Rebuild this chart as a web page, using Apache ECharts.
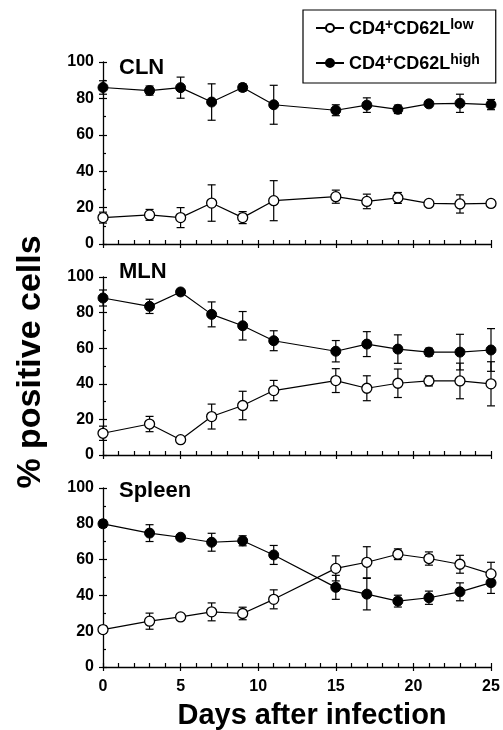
<!DOCTYPE html>
<html>
<head>
<meta charset="utf-8">
<script src="https://cdn.jsdelivr.net/npm/echarts@6/dist/echarts.min.js"></script>
<style>html,body{margin:0;padding:0;background:#fff}#c{width:503px;height:730px}</style>
</head>
<body>
<div id="c"></div>
<script>
const days = [0, 3, 5, 7, 9, 11, 15, 17, 19, 21, 23, 25];
const panelNames = ['CLN', 'MLN', 'Spleen'];
const xTicks = [0, 5, 10, 15, 20, 25];
const yTicks = [0, 20, 40, 60, 80, 100];

const clnLow      = [14.5, 16, 14.5, 22.5, 14.5, 23.8, 26, 23.4, 25.3, 22.3, 22, 22.3];
const clnLowErr   = [3, 3, 5.5, 10, 3.3, 11, 3.6, 4, 3, 1, 5, 1.8];
const clnHigh     = [86, 84.3, 85.9, 78, 86, 76.5, 73.5, 76.3, 74, 77, 77.3, 76.6];
const clnHighErr  = [3.7, 2.5, 5.8, 10, 2, 10.7, 3, 4, 2.3, 1, 5, 2.8];

const mlnLow      = [12.2, 17.4, 8.6, 21.6, 27.8, 36.2, 41.8, 37.5, 40.3, 41.6, 41.6, 40];
const mlnLowErr   = [4, 4.3, 1.5, 7, 8, 5.7, 6.7, 7, 8, 2.8, 10, 12.4];
const mlnHigh     = [88.2, 83.5, 91.6, 79, 72.6, 64.2, 58.3, 62.3, 59.5, 57.8, 57.8, 59];
const mlnHighErr  = [4.5, 4, 1.5, 7, 8, 5.6, 6, 7, 8, 2.2, 10, 12];

const spleenLow     = [20.9, 25.6, 28, 30.8, 29.9, 37.8, 55.1, 58.5, 63, 60.6, 57.4, 52];
const spleenLowErr  = [2, 4.5, 1.5, 5, 3.5, 5.3, 7, 8.7, 3, 3.7, 5, 6.5];
const spleenHigh    = [80, 74.8, 72.5, 69.7, 70.5, 62.6, 44.5, 40.7, 36.8, 38.7, 42, 47.1];
const spleenHighErr = [2, 4.7, 1.5, 5, 2.8, 5.3, 6.7, 8.8, 3.3, 3.7, 5, 6];

const lowName = 'CD4+CD62Llow';
const highName = 'CD4+CD62Lhigh';

const panels = [
  {low: clnLow, lowErr: clnLowErr, high: clnHigh, highErr: clnHighErr},
  {low: mlnLow, lowErr: mlnLowErr, high: mlnHigh, highErr: mlnHighErr},
  {low: spleenLow, lowErr: spleenLowErr, high: spleenHigh, highErr: spleenHighErr}
];

const FONT = 'Liberation Sans, Arial, sans-serif';
const grids = [
  {left: 103, right: 12, top: 62, height: 182},
  {left: 103, right: 12, top: 277, height: 178},
  {left: 103, right: 12, top: 488, height: 179}
];
const titleTops = [57, 261, 480];

function errRender(params, api) {
  const x = api.value(0), y = api.value(1), e = api.value(2);
  const t = api.coord([x, y + e]);
  const b = api.coord([x, y - e]);
  const w = 4;
  const st = {stroke: '#000', lineWidth: 1.2};
  return {type: 'group', children: [
    {type: 'line', shape: {x1: t[0], y1: t[1], x2: b[0], y2: b[1]}, style: st},
    {type: 'line', shape: {x1: t[0] - w, y1: t[1], x2: t[0] + w, y2: t[1]}, style: st},
    {type: 'line', shape: {x1: b[0] - w, y1: b[1], x2: b[0] + w, y2: b[1]}, style: st}
  ]};
}

const tickStyle = {color: '#000', width: 1.2};
const xAxes = [], yAxes = [], series = [], titles = [];
panels.forEach((p, i) => {
  xAxes.push({
    gridIndex: i, type: 'value', min: 0, max: 25, interval: 5, position: 'bottom',
    axisLine: {lineStyle: {color: '#000', width: 1.3}},
    axisTick: {show: true, inside: true, length: 4, lineStyle: tickStyle},
    minorTick: {show: true, splitNumber: 5, length: 4, lineStyle: tickStyle},
    splitLine: {show: false},
    axisLabel: {show: i === 2, color: '#000', fontFamily: FONT, fontWeight: 'bold', fontSize: 16, margin: 12,
      formatter: v => xTicks.includes(v) ? String(v) : ''}
  });
  yAxes.push({
    gridIndex: i, type: 'value', min: 0, max: 100, interval: 20, position: 'left',
    axisLine: {show: true, lineStyle: {color: '#000', width: 1.3}},
    axisTick: {show: true, inside: true, length: 4, lineStyle: tickStyle},
    minorTick: {show: true, splitNumber: 2, length: 3, lineStyle: tickStyle},
    splitLine: {show: false},
    axisLabel: {color: '#000', fontFamily: FONT, fontWeight: 'bold', fontSize: 16, margin: 9,
      formatter: v => yTicks.includes(v) ? String(v) : ''}
  });
  titles.push({text: panelNames[i], left: 119, top: titleTops[i], padding: 0,
    textStyle: {color: '#000', fontFamily: FONT, fontWeight: 'bold', fontSize: 22}});
  [[p.high, p.highErr], [p.low, p.lowErr]].forEach(([v, e]) => {
    series.push({type: 'custom', xAxisIndex: i, yAxisIndex: i, renderItem: errRender, clip: false, z: 1,
      silent: true, data: days.map((d, k) => [d, v[k], e[k]])});
  });
  series.push({type: 'line', name: highName, xAxisIndex: i, yAxisIndex: i, clip: false, z: 3,
    data: days.map((d, k) => [d, p.high[k]]),
    symbol: 'circle', symbolSize: 10,
    lineStyle: {color: '#000', width: 1.2},
    itemStyle: {color: '#000', borderColor: '#000', borderWidth: 1}});
  series.push({type: 'line', name: lowName, xAxisIndex: i, yAxisIndex: i, clip: false, z: 3,
    data: days.map((d, k) => [d, p.low[k]]),
    symbol: 'circle', symbolSize: 10,
    lineStyle: {color: '#000', width: 1.2},
    itemStyle: {color: '#fff', borderColor: '#000', borderWidth: 1.3}});
});
// outward major ticks (second, label-less axes on the same lines)
panels.forEach((p, i) => {
  xAxes.push({
    gridIndex: i, type: 'value', min: 0, max: 25, interval: 5, position: 'bottom', offset: 0,
    axisLine: {show: false}, axisLabel: {show: false}, splitLine: {show: false},
    axisTick: {show: true, inside: false, length: 4, lineStyle: tickStyle}
  });
  yAxes.push({
    gridIndex: i, type: 'value', min: 0, max: 100, interval: 20, position: 'left', offset: 0,
    axisLine: {show: false}, axisLabel: {show: false}, splitLine: {show: false},
    axisTick: {show: true, inside: false, length: 4, lineStyle: tickStyle}
  });
});

const chart = echarts.init(document.getElementById('c'), null, {renderer: 'canvas'});
chart.setOption({
  animation: false,
  backgroundColor: '#fff',
  title: titles,
  grid: grids,
  xAxis: xAxes,
  yAxis: yAxes,
  legend: {
    data: [lowName, highName], orient: 'vertical', left: 303, top: 10,
    padding: [8, 16, 10, 12], itemGap: 15, itemWidth: 28, itemHeight: 10,
    borderColor: '#000', borderWidth: 1.2, borderRadius: 0,
    formatter: n => n === lowName ? '{b|CD4}{s|+}{b|CD62L}{s|low}' : '{b|CD4}{s|+}{b|CD62L}{s|high}',
    textStyle: {
      color: '#000', fontFamily: FONT, fontWeight: 'bold', fontSize: 18,
      rich: {
        b: {color: '#000', fontFamily: FONT, fontWeight: 'bold', fontSize: 18, lineHeight: 20, verticalAlign: 'bottom'},
        s: {color: '#000', fontFamily: FONT, fontWeight: 'bold', fontSize: 14, lineHeight: 8, verticalAlign: 'top'}
      }
    }
  },
  graphic: [
    {type: 'text', x: 31, y: 362, rotation: Math.PI / 2,
      style: {text: '% positive cells', fill: '#000', font: 'bold 34px ' + FONT, textAlign: 'center', textVerticalAlign: 'middle'}},
    {type: 'text', x: 312, y: 716,
      style: {text: 'Days after infection', fill: '#000', font: 'bold 29px ' + FONT, textAlign: 'center', textVerticalAlign: 'middle'}}
  ],
  series: series
});
</script>
</body>
</html>
